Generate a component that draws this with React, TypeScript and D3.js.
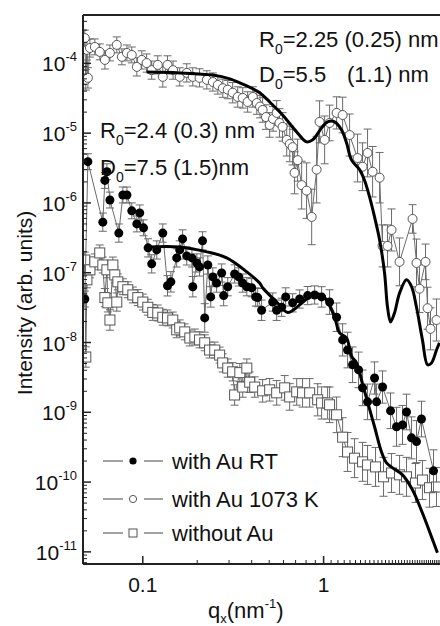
import React from 'react';
import * as d3 from 'd3';

const W = 440, H = 626;
const FONT = "'Liberation Sans', Arial, Helvetica, sans-serif";

// [q (nm^-1), intensity, error factor]
const au1073: [number, number, number][] = [
  [0.0478, 2.3e-4, 1.3], [0.0484, 5.8e-5, 1.4], [0.0491, 1.56e-4, 1.4], [0.0497, 6.2e-5, 1.4],
  [0.051, 1.66e-4, 1.35], [0.0543, 1.72e-4, 1.3], [0.0578, 1.46e-4, 1.3], [0.0617, 1.12e-4, 1.35],
  [0.0658, 1.41e-4, 1.3], [0.0718, 1.84e-4, 1.3], [0.0766, 1.24e-4, 1.3], [0.0817, 1.41e-4, 1.3],
  [0.0869, 1.32e-4, 1.3], [0.0927, 8.9e-5, 1.35], [0.0987, 1.12e-4, 1.35], [0.105, 1.01e-4, 1.35],
  [0.112, 8.0e-5, 1.35], [0.121, 9.5e-5, 1.35], [0.129, 6.4e-5, 1.4], [0.137, 9.5e-5, 1.35],
  [0.147, 8.0e-5, 1.35], [0.160, 6.4e-5, 1.35], [0.175, 7.3e-5, 1.35], [0.189, 6.4e-5, 1.35],
  [0.206, 6.2e-5, 1.35], [0.226, 5.8e-5, 1.35], [0.244, 5.4e-5, 1.35], [0.260, 4.9e-5, 1.35],
  [0.277, 4.4e-5, 1.35], [0.295, 4.2e-5, 1.35], [0.314, 3.8e-5, 1.4], [0.335, 3.3e-5, 1.4],
  [0.357, 3.2e-5, 1.4], [0.380, 2.8e-5, 1.4], [0.406, 3.3e-5, 1.4], [0.427, 2.7e-5, 1.45],
  [0.445, 2.4e-5, 1.45], [0.460, 2.15e-5, 1.5], [0.480, 1.7e-5, 1.5], [0.503, 1.31e-5, 1.5],
  [0.525, 1.6e-5, 1.5], [0.550, 1.95e-5, 1.5], [0.570, 1.4e-5, 1.6], [0.593, 1.23e-5, 1.6],
  [0.625, 8.0e-6, 1.7], [0.650, 7.0e-6, 1.8], [0.674, 6.3e-6, 1.8], [0.691, 2.7e-6, 2.0],
  [0.718, 4.1e-6, 2.0], [0.756, 1.8e-6, 2.2], [0.805, 1.5e-6, 2.5], [0.859, 6.3e-7, 2.5],
  [0.915, 3.0e-6, 3.0], [0.950, 1.45e-5, 2.0], [1.013, 8.0e-6, 2.2], [1.079, 1.40e-5, 1.8],
  [1.18, 1.95e-5, 1.7], [1.274, 1.82e-5, 1.8], [1.392, 9.4e-6, 2.0], [1.541, 4.4e-6, 2.2],
  [1.642, 3.3e-6, 2.2], [1.75, 5.2e-6, 2.2], [1.866, 2.8e-6, 2.3], [2.04, 2.3e-6, 2.3],
  [2.118, 2.42e-7, 2.0], [2.257, 2.42e-7, 2.0], [2.375, 4.1e-7, 2.0], [2.63, 1.43e-7, 2.2],
  [3.104, 5.9e-7, 1.6], [3.264, 1.38e-7, 2.2], [3.391, 5.9e-8, 2.2], [3.66, 1.43e-7, 1.8],
  [3.757, 3.1e-8, 2.0], [3.90, 1.57e-8, 2.0], [4.21, 2.1e-8, 2.0],
];

const auRT: [number, number, number][] = [
  [0.0478, 4.2e-8, 1.3], [0.0497, 3.9e-6, 1.3], [0.0601, 5.3e-7, 1.35], [0.0617, 2.1e-6, 1.3],
  [0.0633, 2.8e-6, 1.3], [0.0658, 1.1e-6, 1.3], [0.0737, 3.7e-7, 1.35], [0.0776, 1.3e-6, 1.3],
  [0.0817, 1.3e-6, 1.3], [0.0869, 7.7e-7, 1.3], [0.0927, 5.0e-7, 1.3], [0.0962, 7.2e-7, 1.3],
  [0.101, 4.4e-7, 1.3], [0.107, 2.27e-7, 1.35], [0.112, 1.34e-7, 1.35], [0.1195, 2.12e-7, 1.35],
  [0.129, 3.7e-7, 1.35], [0.137, 6.5e-8, 1.4], [0.143, 7.4e-8, 1.4], [0.154, 1.63e-7, 1.35],
  [0.160, 2.12e-7, 1.35], [0.166, 3.05e-7, 1.35], [0.175, 1.74e-7, 1.35], [0.187, 1.63e-7, 1.35],
  [0.189, 6.3e-8, 1.4], [0.199, 1.38e-7, 1.35], [0.206, 1.21e-7, 1.35], [0.214, 2.86e-7, 1.35],
  [0.220, 2.25e-8, 1.6], [0.229, 1.29e-7, 1.35], [0.2375, 4.5e-8, 1.4], [0.244, 8.7e-8, 1.35],
  [0.256, 7.1e-8, 1.35], [0.273, 9.9e-8, 1.35], [0.280, 4.7e-8, 1.4], [0.295, 6.3e-8, 1.35],
  [0.322, 9.6e-8, 1.35], [0.339, 8.7e-8, 1.35], [0.357, 7.1e-8, 1.35], [0.376, 6.3e-8, 1.35],
  [0.400, 6.1e-8, 1.35], [0.421, 4.5e-8, 1.35], [0.432, 4.4e-8, 1.35], [0.454, 2.9e-8, 1.4],
  [0.523, 3.8e-8, 1.35], [0.550, 2.9e-8, 1.4], [0.586, 3.2e-8, 1.35], [0.617, 4.5e-8, 1.35],
  [0.674, 3.7e-8, 1.35], [0.737, 4.2e-8, 1.35], [0.816, 4.7e-8, 1.35], [0.892, 4.8e-8, 1.35],
  [0.975, 4.5e-8, 1.4], [1.079, 3.8e-8, 1.5], [1.18, 2.3e-8, 1.6], [1.274, 1.09e-8, 1.7],
  [1.357, 7.8e-9, 1.8], [1.446, 4.8e-9, 1.8], [1.561, 4.05e-9, 1.8], [1.642, 2.24e-9, 1.8],
  [1.75, 1.41e-9, 1.8], [1.913, 3.1e-9, 1.7], [1.963, 1.41e-9, 1.8], [2.118, 2.3e-9, 1.7],
  [2.345, 1.05e-9, 1.8], [2.531, 6.2e-10, 1.9], [2.731, 6.6e-10, 1.9], [2.874, 1.01e-9, 1.8],
  [3.064, 4.3e-10, 2.0], [3.264, 3.8e-10, 2.0], [3.477, 8.0e-10, 1.8], [4.054, 1.45e-10, 2.0],
];

const noAu: [number, number, number][] = [
  [0.0478, 1.52e-7, 1.3], [0.0484, 6.2e-9, 1.4], [0.0491, 7.9e-8, 1.3], [0.051, 1.1e-7, 1.3],
  [0.0543, 1.43e-7, 1.3], [0.0578, 1.92e-7, 1.3], [0.0601, 1.29e-7, 1.3], [0.0617, 4.4e-8, 1.35],
  [0.0633, 1.1e-7, 1.3], [0.0641, 3.7e-8, 1.35], [0.0658, 2.1e-8, 1.4], [0.0683, 1.29e-7, 1.3],
  [0.070, 9.3e-8, 1.3], [0.0718, 3.8e-8, 1.35], [0.0728, 7.4e-8, 1.3], [0.0776, 6.3e-8, 1.3],
  [0.0826, 5.7e-8, 1.3], [0.0881, 4.8e-8, 1.3], [0.0938, 4.4e-8, 1.3], [0.100, 3.8e-8, 1.3],
  [0.1066, 3.2e-8, 1.3], [0.1135, 2.7e-8, 1.3], [0.121, 2.65e-8, 1.3], [0.129, 2.3e-8, 1.3],
  [0.137, 2.25e-8, 1.3], [0.1465, 2.1e-8, 1.3], [0.154, 1.52e-8, 1.3], [0.160, 1.62e-8, 1.3],
  [0.1706, 1.42e-8, 1.3], [0.182, 1.16e-8, 1.3], [0.194, 1.2e-8, 1.3], [0.206, 1.09e-8, 1.3],
  [0.220, 9.9e-9, 1.3], [0.234, 7.8e-9, 1.3], [0.250, 7.8e-9, 1.3], [0.266, 6.6e-9, 1.3],
  [0.2765, 5.1e-9, 1.35], [0.295, 4.3e-9, 1.35], [0.314, 3.8e-9, 1.35], [0.322, 1.77e-9, 1.4],
  [0.344, 3.7e-9, 1.35], [0.357, 2.3e-9, 1.4], [0.376, 4.3e-9, 1.35], [0.390, 2.7e-9, 1.4],
  [0.416, 2.3e-9, 1.4], [0.460, 2.03e-9, 1.45], [0.503, 2.1e-9, 1.45], [0.550, 1.9e-9, 1.5],
  [0.609, 2.24e-9, 1.5], [0.649, 1.66e-9, 1.55], [0.710, 1.96e-9, 1.55], [0.765, 1.9e-9, 1.6],
  [0.837, 1.9e-9, 1.6], [0.927, 1.51e-9, 1.7], [0.975, 1.36e-9, 1.7], [1.052, 1.36e-9, 1.7],
  [1.079, 1.28e-9, 1.8], [1.18, 9.2e-10, 1.8], [1.274, 4.4e-10, 1.9], [1.357, 2.7e-10, 1.9],
  [1.483, 2.2e-10, 1.9], [1.642, 1.95e-10, 1.9], [1.75, 1.76e-10, 1.9], [1.937, 1.65e-10, 1.9],
  [2.145, 1.19e-10, 1.9], [2.375, 1.35e-10, 1.9], [2.63, 1.27e-10, 1.9], [2.874, 1.19e-10, 1.9],
  [3.223, 9.7e-11, 1.9], [3.52, 1.07e-10, 1.9], [3.853, 8.3e-11, 1.9], [4.21, 8.5e-11, 1.9],
];

// model curves [q, intensity]
const fit1073: [number, number][] = [
  [0.105, 7.5e-5], [0.160, 7.3e-5], [0.244, 6.8e-5], [0.303, 6.0e-5], [0.376, 4.75e-5],
  [0.443, 3.8e-5], [0.503, 2.8e-5], [0.593, 1.82e-5], [0.710, 1.04e-5], [0.805, 7.5e-6],
  [0.869, 8.0e-6], [0.975, 1.19e-5], [1.052, 1.45e-5], [1.15, 1.45e-5], [1.257, 1.11e-5],
  [1.34, 7.2e-6], [1.428, 4.1e-6], [1.58, 3.0e-6], [1.685, 2.1e-6], [1.795, 1.22e-6],
  [1.913, 6.3e-7], [2.04, 2.95e-7], [2.173, 9.9e-8], [2.257, 3.2e-8], [2.345, 1.97e-8],
  [2.466, 2.65e-8], [2.63, 5.1e-8], [2.874, 7.9e-8], [3.064, 6.3e-8], [3.264, 3.2e-8],
  [3.52, 1.09e-8], [3.757, 4.8e-9], [3.95, 5.1e-9], [4.21, 7.8e-9], [4.37, 9.9e-9],
];

const fitRT: [number, number][] = [
  [0.107, 2.34e-7], [0.160, 2.34e-7], [0.226, 1.99e-7], [0.291, 1.63e-7], [0.376, 1.03e-7],
  [0.443, 7.1e-8], [0.460, 6.1e-8], [0.550, 3.8e-8], [0.633, 2.7e-8], [0.737, 3.46e-8],
  [0.869, 4.8e-8], [0.975, 4.8e-8], [1.052, 3.8e-8], [1.15, 2.3e-8], [1.226, 1.37e-8],
  [1.34, 1.16e-8], [1.428, 6.3e-9], [1.521, 5.1e-9], [1.642, 2.55e-9], [1.75, 1.41e-9],
  [1.913, 6.2e-10], [2.09, 2.7e-10], [2.228, 1.88e-10], [2.405, 1.6e-10], [2.731, 1.27e-10],
  [3.104, 7.7e-11], [3.52, 3.6e-11], [3.95, 1.64e-11], [4.26, 9.7e-12],
];

const yTickValues = [1e-4, 1e-5, 1e-6, 1e-7, 1e-8, 1e-9, 1e-10, 1e-11];
const yTickExps = ['-4', '-5', '-6', '-7', '-8', '-9', '-10', '-11'];
const xTickValues = [0.1, 1];
const xTickLabels = ['0.1', '1'];
const legendLabels = ['with Au RT', 'with Au 1073 K', 'without Au'];

const L = 83, T = 15, B = 564, R = 450;
const x = d3.scaleLog().domain([0.0467, 5]).range([L, R]);
const y = d3.scaleLog().domain([6.7e-12, 4.93e-4]).range([B, T]);

const isMajor = (v: number) => Math.abs(Math.log10(v) - Math.round(Math.log10(v))) < 1e-6;
const ERR = '#6a6a6a';
const INK = '#222';
const TXT = '#111';

function Marker({ kind, cx, cy, s }: { kind: string; cx: number; cy: number; s: number }) {
  if (kind === 'filled') return <circle cx={cx} cy={cy} r={4.5 * s} fill="#000" />;
  if (kind === 'open') return <circle cx={cx} cy={cy} r={4.5 * s} fill="#fff" stroke="#555" strokeWidth={1} />;
  return <rect x={cx - 5 * s} y={cy - 5 * s} width={10 * s} height={10 * s} fill="#fff" stroke="#555" strokeWidth={1} />;
}

function Series({ data, marker }: { data: [number, number, number][]; marker: string }) {
  const line = d3.line<[number, number, number]>().x(d => x(d[0])).y(d => y(d[1]));
  return (
    <g>
      <path d={line(data) || ''} fill="none" stroke={ERR} strokeWidth={1} />
      {data.map((d, i) => {
        const cx = x(d[0]);
        const y1 = y(d[1] * d[2]), y2 = y(d[1] / d[2]);
        return (
          <g key={'e' + i} stroke={ERR} strokeWidth={1}>
            <line x1={cx} x2={cx} y1={y1} y2={y2} />
            <line x1={cx - 4} x2={cx + 4} y1={y1} y2={y1} />
            <line x1={cx - 4} x2={cx + 4} y1={y2} y2={y2} />
          </g>
        );
      })}
      {data.map((d, i) => <Marker key={'m' + i} kind={marker} cx={x(d[0])} cy={y(d[1])} s={1} />)}
    </g>
  );
}

// label like R0=..., with subscript 0
function SubLabel({ x0, y0, letter, rest }: { x0: number; y0: number; letter: string; rest: string }) {
  return (
    <text x={x0} y={y0} fontSize={22} fill={TXT}>
      <tspan>{letter}</tspan><tspan dy={7} fontSize={14}>0</tspan><tspan dy={-7}>{rest}</tspan>
    </text>
  );
}

export default function App() {
  const fitLine = d3.line<[number, number]>().x(d => x(d[0])).y(d => y(d[1])).curve(d3.curveCatmullRom.alpha(0.5));
  const yMinor = y.ticks(40).filter(v => !isMajor(v));
  const xMinor = x.ticks(40).filter(v => !isMajor(v) && x(v) > L);
  const markers = ['filled', 'open', 'square'];
  const legendY = [461, 499, 533];

  return (
    <div style={{ position: 'absolute', left: 0, top: 0, width: W, height: H, background: '#fff' }}>
      <svg width={W} height={H} style={{ display: 'block', fontFamily: FONT }}>
        <defs>
          <clipPath id="plotArea">
            <rect x={L} y={T} width={R - L} height={B - T} />
          </clipPath>
        </defs>

        <g clipPath="url(#plotArea)">
          <Series data={noAu} marker="square" />
          <Series data={auRT} marker="filled" />
          <Series data={au1073} marker="open" />
          <path d={fitLine(fit1073) || ''} fill="none" stroke="#000" strokeWidth={3} />
          <path d={fitLine(fitRT) || ''} fill="none" stroke="#000" strokeWidth={3} />
        </g>

        {/* frame */}
        <line x1={L} x2={L} y1={T} y2={B} stroke={INK} strokeWidth={2} />
        <line x1={L} x2={R} y1={T} y2={T} stroke={INK} strokeWidth={2} />
        <line x1={L} x2={R} y1={B} y2={B} stroke={INK} strokeWidth={2} />

        {/* y ticks */}
        {yMinor.map((v, i) => <line key={'ym' + i} x1={L} x2={L + 4} y1={y(v)} y2={y(v)} stroke={INK} strokeWidth={1} />)}
        {yTickValues.map((v, i) => (
          <g key={'yt' + i}>
            <line x1={L} x2={L + 8} y1={y(v)} y2={y(v)} stroke={INK} strokeWidth={1.5} />
            <text x={77} y={y(v) + 8} textAnchor="end" fontSize={21} fill={TXT}>
              <tspan>10</tspan>
              <tspan dy={-10} fontSize={13}>{yTickExps[i]}</tspan>
            </text>
          </g>
        ))}

        {/* x ticks */}
        {xMinor.map((v, i) => <line key={'xm' + i} x1={x(v)} x2={x(v)} y1={B} y2={B - 4} stroke={INK} strokeWidth={1} />)}
        {xTickValues.map((v, i) => (
          <g key={'xt' + i}>
            <line x1={x(v)} x2={x(v)} y1={B} y2={B - 8} stroke={INK} strokeWidth={1.5} />
            <text x={x(v)} y={592} textAnchor="middle" fontSize={21} fill={TXT}>{xTickLabels[i]}</text>
          </g>
        ))}

        {/* axis titles */}
        <text x={208} y={618} fontSize={22} fill={TXT}>
          <tspan>q</tspan>
          <tspan dy={5} fontSize={13}>x</tspan>
          <tspan dy={-5}>(nm</tspan>
          <tspan dy={-10} fontSize={13}>-1</tspan>
          <tspan dy={10}>)</tspan>
        </text>
        <text transform="translate(32,303) rotate(-90)" textAnchor="middle" fontSize={21} fill={TXT}>
          Intensity (arb. units)
        </text>

        {/* annotations */}
        <SubLabel x0={259} y0={47} letter="R" rest="=2.25 (0.25) nm" />
        <text x={259} y={82} fontSize={22} fill={TXT}>
          <tspan>D</tspan><tspan dy={7} fontSize={14}>0</tspan><tspan dy={-7}>=5.5</tspan>
          <tspan x={347}>(1.1) nm</tspan>
        </text>
        <SubLabel x0={100} y0={138} letter="R" rest="=2.4 (0.3) nm" />
        <SubLabel x0={100} y0={175} letter="D" rest="=7.5 (1.5)nm" />

        {/* legend */}
        {legendLabels.map((lab, i) => (
          <g key={'lg' + i}>
            <line x1={103} x2={123} y1={legendY[i]} y2={legendY[i]} stroke="#444" strokeWidth={1} />
            <line x1={144} x2={163} y1={legendY[i]} y2={legendY[i]} stroke="#444" strokeWidth={1} />
            <Marker kind={markers[i]} cx={133} cy={legendY[i]} s={0.8} />
            <text x={172} y={legendY[i] + 8} fontSize={22} fill={TXT}>{lab}</text>
          </g>
        ))}
      </svg>
    </div>
  );
}
